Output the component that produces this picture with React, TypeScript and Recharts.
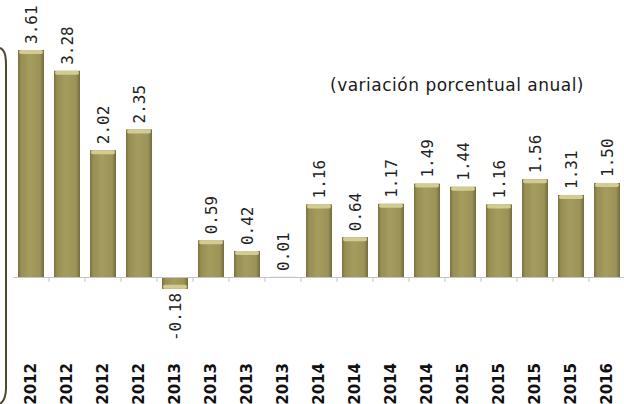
import { Bar, BarChart, LabelList, ReferenceLine, XAxis, YAxis } from "recharts";

const CATEGORIES = [
  "I 2012", "II 2012", "III 2012", "IV 2012",
  "I 2013", "II 2013", "III 2013", "IV 2013",
  "I 2014", "II 2014", "III 2014", "IV 2014",
  "I 2015", "II 2015", "III 2015", "IV 2015",
  "I 2016"
];
const VALUES = [
  3.61, 3.28, 2.02, 2.35,
  -0.18, 0.59, 0.42, 0.01,
  1.16, 0.64, 1.17, 1.49,
  1.44, 1.16, 1.56, 1.31,
  1.5
];
const TITLE = "(variación porcentual anual)";
const Y_DOMAIN = [-1.15, 3.8];

const rows = CATEGORIES.map((cat, i) => ({ cat, value: VALUES[i] }));

function OliveBar(props: any) {
  const { x, y, width, height, index } = props;
  const top = Math.min(y, y + height);
  const h = Math.abs(height);
  if (!h) return null;
  const id = `olive-${index}`;
  const neg = height < 0 || props.value < 0;
  const cap = Math.min(4, h);
  return (
    <g>
      <defs>
        <linearGradient id={id} x1="0" y1="0" x2="1" y2="0">
          <stop offset="0%" stopColor="#7a7240" />
          <stop offset="12%" stopColor="#968e52" />
          <stop offset="45%" stopColor="#a59d5f" />
          <stop offset="85%" stopColor="#9a9256" />
          <stop offset="100%" stopColor="#736b3b" />
        </linearGradient>
      </defs>
      <rect x={x} y={top} width={width} height={h} fill={`url(#${id})`} />
      <rect
        x={x + 1}
        y={neg ? top + h - cap : top}
        width={width - 2}
        height={cap}
        rx={2}
        fill="#d2cc94"
      />
    </g>
  );
}

function ValueLabel(props: any) {
  const { x, y, width, height, value } = props;
  const cx = x + width / 2;
  const top = Math.min(y, y + height);
  const bottom = Math.max(y, y + height);
  const neg = value < 0;
  const ty = neg ? bottom + 4 : top - 6;
  return (
    <text
      x={cx}
      y={ty}
      dy="0.35em"
      transform={`rotate(-90 ${cx} ${ty})`}
      textAnchor={neg ? "end" : "start"}
      fontFamily="'DejaVu Sans Mono', monospace"
      fontSize={16}
      fill="#222"
    >
      {value.toFixed(2)}
    </text>
  );
}

function CategoryTick(props: any) {
  const { x, y, payload } = props;
  const ty = y + 5;
  return (
    <text
      x={x}
      y={ty}
      dy="0.35em"
      transform={`rotate(-90 ${x} ${ty})`}
      textAnchor="end"
      fontFamily="'DejaVu Sans', sans-serif"
      fontWeight="bold"
      fontSize={15}
      fill="#111"
    >
      {payload.value}
    </text>
  );
}

export default function App() {
  return (
    <div
      style={{
        position: "absolute",
        left: 0,
        top: 0,
        width: 624,
        height: 404,
        overflow: "hidden",
        background: "#fff"
      }}
    >
      <BarChart
        width={625}
        height={460}
        data={rows}
        margin={{ top: 38, right: 0, left: 13, bottom: 0 }}
        barSize={26}
      >
        <XAxis
          dataKey="cat"
          axisLine={false}
          tickLine={false}
          interval={0}
          height={110}
          tick={<CategoryTick />}
        />
        <YAxis hide domain={Y_DOMAIN} />
        <ReferenceLine y={0} stroke="#c4c4c4" strokeWidth={1} />
        {CATEGORIES.slice(1).map((cat) => (
          <ReferenceLine
            key={cat}
            segment={[
              { x: cat, y: 0 },
              { x: cat, y: -0.07 }
            ]}
            position="start"
            stroke="#c4c4c4"
          />
        ))}
        <Bar dataKey="value" shape={<OliveBar />} isAnimationActive={false}>
          <LabelList dataKey="value" content={<ValueLabel />} />
        </Bar>
      </BarChart>
      <div
        style={{
          position: "absolute",
          left: 330,
          top: 75,
          fontFamily: "'DejaVu Sans', sans-serif",
          fontSize: 17,
          letterSpacing: 0.5,
          color: "#1a1a1a",
          whiteSpace: "nowrap"
        }}
      >
        {TITLE}
      </div>
      <svg
        width={20}
        height={404}
        style={{ position: "absolute", left: 0, top: 0 }}
      >
        <path
          d="M 0 48 Q 6 50 6 64 L 6 388 Q 6 400 0 404"
          fill="none"
          stroke="#4e4830"
          strokeWidth={2}
        />
      </svg>
    </div>
  );
}
